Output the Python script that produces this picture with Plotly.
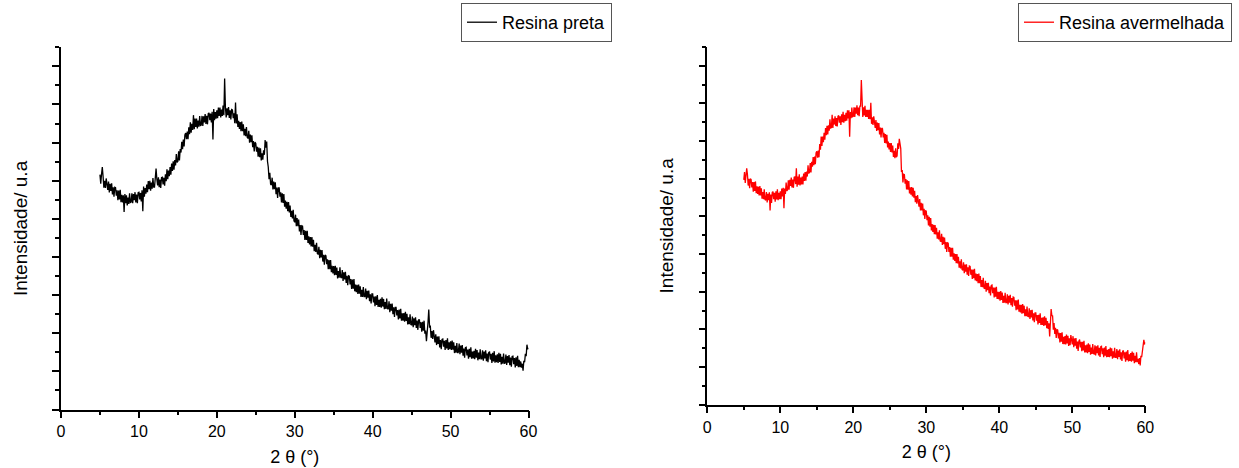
import plotly.graph_objects as go

# 2-theta grid: 5.0 to 60.0 in steps of 0.1 degree
two_theta = [round(5 + 0.1 * i, 1) for i in range(551)]

# Intensity (arbitrary units); one row per degree (x.0 .. x.9)
resina_preta_rows = [
    [616, 592, 617, 636, 611, 582, 600, 581, 606, 579],   # 5
    [576, 598, 569, 592, 573, 593, 564, 583, 558, 583],   # 6
    [582, 561, 575, 549, 574, 551, 576, 544, 563, 543],   # 7
    [562, 518, 565, 541, 562, 535, 556, 539, 567, 543],   # 8
    [544, 567, 541, 565, 549, 570, 543, 564, 541, 569],   # 9
    [570, 551, 568, 546, 575, 520, 585, 558, 581, 566],   # 10
    [590, 570, 599, 578, 600, 574, 595, 579, 607, 583],   # 11
    [583, 607, 632, 605, 588, 609, 583, 603, 581, 608],   # 12
    [609, 590, 608, 587, 617, 599, 630, 604, 627, 612],   # 13
    [636, 616, 645, 626, 651, 629, 654, 640, 670, 648],   # 14
    [651, 677, 653, 683, 674, 702, 683, 708, 690, 720],   # 15
    [725, 709, 729, 709, 740, 722, 753, 726, 749, 733],   # 16
    [772, 735, 763, 741, 763, 737, 758, 742, 770, 745],   # 17
    [746, 770, 744, 769, 753, 775, 749, 770, 748, 776],   # 18
    [778, 759, 776, 753, 781, 708, 788, 759, 780, 763],   # 19
    [785, 764, 792, 770, 792, 766, 787, 770, 797, 772],   # 20
    [868, 794, 766, 790, 772, 793, 765, 785, 761, 787],   # 21
    [786, 764, 777, 751, 805, 750, 774, 741, 757, 736],   # 22
    [754, 730, 755, 730, 748, 719, 736, 717, 741, 714],   # 23
    [711, 731, 700, 721, 701, 719, 688, 704, 677, 701],   # 24
    [698, 676, 689, 663, 687, 662, 685, 653, 672, 655],   # 25
    [680, 668, 707, 687, 703, 651, 636, 604, 621, 591],   # 26
    [589, 608, 577, 598, 578, 596, 565, 582, 555, 581],   # 27
    [581, 558, 570, 543, 567, 542, 565, 532, 548, 527],   # 28
    [545, 520, 544, 517, 535, 505, 521, 501, 524, 495],   # 29
    [491, 511, 481, 502, 481, 498, 467, 484, 458, 482],   # 30
    [481, 458, 471, 445, 469, 445, 469, 437, 454, 433],   # 31
    [452, 428, 452, 427, 445, 415, 432, 413, 437, 409],   # 32
    [407, 427, 397, 419, 399, 418, 388, 406, 380, 405],   # 33
    [403, 381, 394, 368, 392, 368, 392, 360, 377, 357],   # 34
    [376, 352, 377, 353, 372, 344, 363, 346, 373, 347],   # 35
    [345, 366, 337, 360, 341, 361, 332, 351, 326, 351],   # 36
    [350, 328, 342, 316, 341, 317, 342, 310, 328, 308],   # 37
    [327, 303, 328, 304, 323, 295, 314, 295, 321, 296],   # 38
    [296, 317, 289, 311, 293, 312, 284, 302, 278, 303],   # 39
    [303, 281, 296, 271, 297, 274, 300, 269, 288, 269],   # 40
    [290, 267, 294, 270, 290, 263, 282, 264, 291, 265],   # 41
    [263, 284, 255, 277, 259, 278, 250, 268, 243, 268],   # 42
    [268, 247, 261, 236, 262, 239, 264, 233, 252, 233],   # 43
    [253, 230, 256, 232, 251, 223, 242, 224, 250, 223],   # 44
    [222, 244, 216, 239, 221, 242, 214, 233, 209, 235],   # 45
    [235, 214, 229, 204, 230, 207, 233, 199, 207, 179],   # 46
    [225, 228, 262, 217, 218, 188, 206, 185, 208, 179],   # 47
    [176, 197, 169, 191, 172, 192, 163, 182, 158, 184],   # 48
    [185, 165, 180, 156, 182, 160, 187, 156, 176, 158],   # 49
    [179, 156, 181, 157, 176, 148, 167, 149, 174, 148],   # 50
    [151, 173, 145, 168, 149, 169, 141, 160, 136, 162],   # 51
    [163, 142, 157, 133, 159, 137, 163, 133, 152, 134],   # 52
    [154, 132, 159, 136, 156, 129, 149, 132, 158, 133],   # 53
    [133, 155, 128, 152, 134, 155, 127, 147, 124, 150],   # 54
    [151, 131, 146, 122, 149, 126, 153, 123, 142, 124],   # 55
    [145, 122, 149, 125, 146, 118, 138, 120, 147, 121],   # 56
    [122, 144, 117, 140, 123, 143, 116, 136, 112, 139],   # 57
    [140, 119, 135, 110, 137, 114, 141, 111, 130, 111],   # 58
    [126, 110, 120, 102, 128, 124, 146, 140, 170, 158],   # 59
    [162],                                                 # 60
]

resina_avermelhada_rows = [
    [597, 618, 589, 611, 628, 611, 582, 600, 575, 600],   # 5
    [598, 577, 591, 566, 591, 568, 593, 562, 580, 560],   # 6
    [579, 556, 581, 556, 575, 547, 565, 546, 572, 545],   # 7
    [543, 565, 537, 560, 543, 564, 516, 558, 536, 564],   # 8
    [566, 546, 563, 539, 567, 545, 572, 543, 563, 546],   # 9
    [567, 546, 574, 553, 576, 522, 574, 560, 590, 568],   # 10
    [571, 596, 571, 597, 581, 603, 577, 598, 576, 604],   # 11
    [605, 586, 628, 579, 606, 584, 612, 582, 603, 585],   # 12
    [606, 585, 614, 594, 618, 595, 619, 606, 636, 614],   # 13
    [617, 642, 617, 645, 632, 658, 636, 659, 639, 669],   # 14
    [673, 656, 675, 657, 692, 677, 712, 687, 712, 697],   # 15
    [722, 704, 735, 716, 741, 718, 742, 728, 758, 735],   # 16
    [736, 770, 735, 760, 744, 766, 740, 761, 739, 766],   # 17
    [768, 749, 766, 743, 771, 750, 778, 749, 770, 753],   # 18
    [775, 754, 782, 760, 782, 712, 777, 761, 789, 765],   # 19
    [766, 790, 764, 789, 773, 795, 769, 789, 766, 793],   # 20
    [793, 862, 788, 764, 790, 768, 794, 764, 783, 764],   # 21
    [783, 759, 783, 758, 802, 746, 763, 743, 766, 738],   # 22
    [735, 756, 727, 749, 729, 748, 718, 736, 710, 735],   # 23
    [733, 710, 722, 695, 719, 694, 717, 683, 699, 678],   # 24
    [695, 671, 695, 670, 688, 658, 674, 655, 681, 657],   # 25
    [661, 694, 679, 706, 684, 680, 618, 623, 590, 612],   # 26
    [611, 587, 599, 572, 596, 571, 594, 561, 577, 558],   # 27
    [578, 553, 576, 550, 568, 538, 554, 534, 557, 529],   # 28
    [526, 546, 516, 536, 516, 534, 503, 520, 493, 516],   # 29
    [513, 490, 503, 476, 499, 473, 496, 463, 480, 459],   # 30
    [478, 453, 477, 452, 470, 441, 458, 439, 463, 435],   # 31
    [433, 454, 424, 446, 426, 444, 414, 432, 406, 430],   # 32
    [429, 406, 419, 393, 417, 393, 417, 385, 402, 382],   # 33
    [400, 376, 400, 375, 393, 364, 381, 362, 386, 359],   # 34
    [357, 378, 349, 372, 353, 373, 345, 365, 342, 368],   # 35
    [367, 345, 359, 334, 359, 336, 361, 330, 348, 328],   # 36
    [347, 323, 348, 323, 342, 313, 331, 312, 337, 310],   # 37
    [308, 329, 300, 323, 304, 324, 296, 314, 290, 317],   # 38
    [318, 296, 311, 285, 311, 287, 313, 281, 300, 280],   # 39
    [300, 276, 302, 278, 298, 270, 289, 271, 297, 271],   # 40
    [271, 293, 266, 289, 271, 292, 264, 283, 260, 286],   # 41
    [285, 263, 277, 251, 277, 253, 279, 247, 265, 245],   # 42
    [265, 242, 267, 243, 263, 235, 253, 235, 261, 235],   # 43
    [234, 256, 228, 251, 232, 252, 224, 243, 219, 244],   # 44
    [244, 223, 238, 213, 239, 217, 243, 212, 231, 212],   # 45
    [232, 209, 235, 211, 231, 203, 222, 201, 216, 181],   # 46
    [206, 254, 237, 236, 199, 217, 188, 204, 177, 200],   # 47
    [198, 176, 191, 165, 190, 167, 192, 161, 180, 161],   # 48
    [182, 160, 186, 163, 183, 156, 176, 158, 185, 160],   # 49
    [160, 182, 153, 176, 157, 177, 149, 168, 143, 169],   # 50
    [173, 152, 167, 142, 167, 144, 170, 139, 158, 139],   # 51
    [160, 137, 163, 140, 160, 133, 152, 135, 161, 136],   # 52
    [135, 158, 131, 155, 137, 158, 131, 151, 127, 154],   # 53
    [155, 134, 150, 126, 152, 130, 156, 126, 146, 127],   # 54
    [148, 126, 152, 129, 150, 122, 142, 125, 151, 126],   # 55
    [126, 148, 121, 144, 127, 147, 120, 139, 116, 142],   # 56
    [144, 123, 139, 114, 141, 118, 145, 115, 134, 116],   # 57
    [137, 114, 141, 117, 138, 110, 130, 113, 139, 113],   # 58
    [122, 108, 124, 104, 130, 126, 142, 150, 172, 160],   # 59
    [166],                                                 # 60
]

resina_preta = [v for row in resina_preta_rows for v in row]
resina_avermelhada = [v for row in resina_avermelhada_rows for v in row]

x_ticks = [0, 10, 20, 30, 40, 50, 60]
x_title = "2 θ (°)"
y_title = "Intensidade/ u.a"
names = ["Resina preta", "Resina avermelhada"]
colors = ["#000000", "#ff0000"]

W, H = 1239, 468
FONT = "Arial, Liberation Sans, sans-serif"

fig = go.Figure()
fig.add_trace(go.Scatter(x=two_theta[:len(resina_preta)], y=resina_preta, mode="lines",
                         name=names[0], line=dict(color=colors[0], width=1.3),
                         xaxis="x", yaxis="y", legend="legend"))
fig.add_trace(go.Scatter(x=two_theta[:len(resina_avermelhada)], y=resina_avermelhada,
                         mode="lines", name=names[1], line=dict(color=colors[1], width=1.3),
                         xaxis="x2", yaxis="y2", legend="legend2"))

def xax(domain, anchor):
    return dict(domain=domain, anchor=anchor, range=[0, 60], tickvals=x_ticks,
                showline=True, linecolor="black", linewidth=1.5, ticks="outside",
                ticklen=7, tickwidth=1.5, tickcolor="black",
                minor=dict(dtick=5, tick0=0, ticks="outside", ticklen=4, tickwidth=1.5,
                           tickcolor="black"),
                showgrid=False, zeroline=False, automargin=False,
                tickfont=dict(family=FONT, size=16, color="black"),
                title=dict(text=x_title, font=dict(family=FONT, size=18, color="black"),
                           standoff=11))

def yax(domain, anchor):
    return dict(domain=domain, anchor=anchor, range=[0, 950], dtick=100, tick0=0,
                showline=True, linecolor="black", linewidth=1.5, ticks="outside",
                ticklen=7, tickwidth=1.5, tickcolor="black", showticklabels=False,
                minor=dict(dtick=50, tick0=0, ticks="outside", ticklen=4, tickwidth=1.5,
                           tickcolor="black"),
                showgrid=False, zeroline=False, automargin=False,
                title=dict(text=y_title, font=dict(family=FONT, size=19, color="black"),
                           standoff=20))

fig.update_layout(
    width=W, height=H,
    margin=dict(l=0, r=0, t=0, b=0),
    paper_bgcolor="white", plot_bgcolor="white",
    xaxis=xax([61 / W, 528.5 / W], "y"),
    yaxis=yax([(H - 409.5) / H, (H - 47.3) / H], "x"),
    xaxis2=xax([707.3 / W, 1145.3 / W], "y2"),
    yaxis2=yax([(H - 404.7) / H, (H - 47) / H], "x2"),
    legend=dict(x=612 / W, xanchor="right", y=1 - 3 / H, yanchor="top",
                bordercolor="#555555", borderwidth=1, bgcolor="white",
                font=dict(family=FONT, size=18, color="black")),
    legend2=dict(x=1232 / W, xanchor="right", y=1 - 3 / H, yanchor="top",
                 bordercolor="#555555", borderwidth=1, bgcolor="white",
                 font=dict(family=FONT, size=18, color="black")),
    showlegend=True,
)

fig.write_html("out.html", config={"displayModeBar": False},
               post_script="document.body.style.margin='0px';")
